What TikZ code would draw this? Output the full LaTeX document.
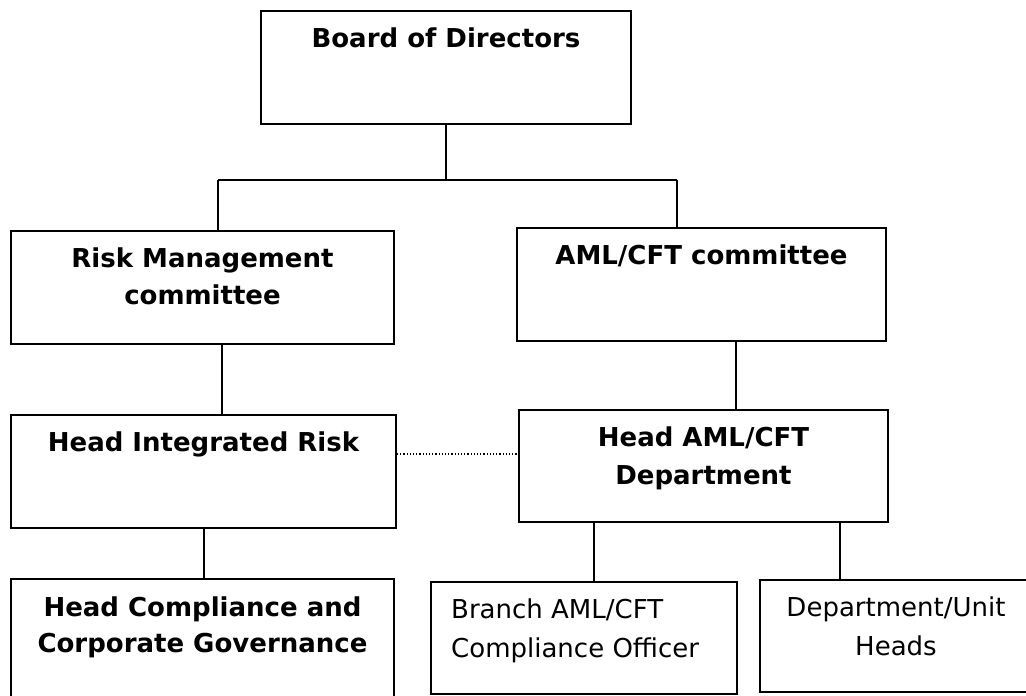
\documentclass[tikz,border=0pt]{standalone}
\usepackage{fontspec}
\setmainfont{DejaVu Sans}
\begin{document}
\begin{tikzpicture}[x=1pt,y=-1pt,
  box/.style={draw, line width=2pt, inner sep=0pt, anchor=north west},
  txt/.style={inner sep=0pt, anchor=north, align=center, font=\fontsize{26}{38}\selectfont},
  conn/.style={line width=2.2pt},
  bar/.style={line width=2.8pt},
  link/.style={line width=1.2pt, dotted}]
\useasboundingbox (0,0) rectangle (1026,696);
\clip (0,0) rectangle (1026,696);
\fill[white] (0,0) rectangle (1026,696);

% boxes
\node[box, minimum width=370pt, minimum height=113pt] (board) at (260,10) {};
\node[box, minimum width=383pt, minimum height=113pt] (risk) at (10,230) {};
\node[box, minimum width=369pt, minimum height=113pt] (amlc) at (516,227) {};
\node[box, minimum width=385pt, minimum height=113pt] (hir) at (10,414) {};
\node[box, minimum width=369pt, minimum height=112pt] (haml) at (518,409) {};
\node[box, minimum width=383pt, minimum height=140pt] (hcc) at (10,578) {};
\node[box, minimum width=306pt, minimum height=112pt] (branch) at (430,581) {};
\node[box, minimum width=272pt, minimum height=112pt] (dept) at (759,579) {};

% texts
\node[txt, font=\fontsize{26}{38}\selectfont\bfseries] (boardT) at ([yshift=-18pt]board.north) {Board of Directors};
\node[txt, font=\fontsize{26}{37}\selectfont\bfseries] (riskT) at ([yshift=-18pt]risk.north) {Risk Management\\committee};
\node[txt, font=\fontsize{26}{38}\selectfont\bfseries] (amlcT) at ([yshift=-18pt]amlc.north) {AML/CFT committee};
\node[txt, font=\fontsize{26}{38}\selectfont\bfseries] (hirT) at ([yshift=-18pt]hir.north) {Head Integrated Risk};
\node[txt, font=\fontsize{26}{38}\selectfont\bfseries] (hamlT) at ([yshift=-18pt]haml.north) {Head AML/CFT\\Department};
\node[txt, font=\fontsize{26}{36}\selectfont\bfseries] (hccT) at ([yshift=-19pt]hcc.north) {Head Compliance and\\Corporate Governance};
\node[txt, anchor=north west, align=left, font=\fontsize{26}{39}\selectfont] (branchT) at ([xshift=21pt,yshift=-18pt]branch.north west) {Branch AML/CFT\\Compliance Officer};
\node[txt, font=\fontsize{26}{39}\selectfont] (deptT) at ([yshift=-18pt]dept.north) {Department/Unit\\Heads};

% connector x positions
\coordinate (jL) at (218,180);
\coordinate (jR) at (677,180);
\coordinate (xa) at (222,0);
\coordinate (xb) at (736,0);
\coordinate (xc) at (204,0);
\coordinate (xd) at (594,0);
\coordinate (xe) at (840,0);
\coordinate (dy) at (0,454);

% connectors
\draw[bar] (board.south) -- (board.south |- jL);
\draw[bar] (jL) -- (jR);
\draw[conn] (jL) -- (risk.north -| jL);
\draw[conn] (jR) -- (amlc.north -| jR);
\draw[conn] (risk.south -| xa) -- (hir.north -| xa);
\draw[conn] (amlc.south -| xb) -- (haml.north -| xb);
\draw[conn] (hir.south -| xc) -- (hcc.north -| xc);
\draw[conn, line width=1.6pt] (haml.south -| xd) -- (branch.north -| xd);
\draw[conn, line width=1.6pt] (haml.south -| xe) -- (dept.north -| xe);
\draw[link] (hir.east |- dy) -- (haml.west |- dy);
\end{tikzpicture}
\end{document}
